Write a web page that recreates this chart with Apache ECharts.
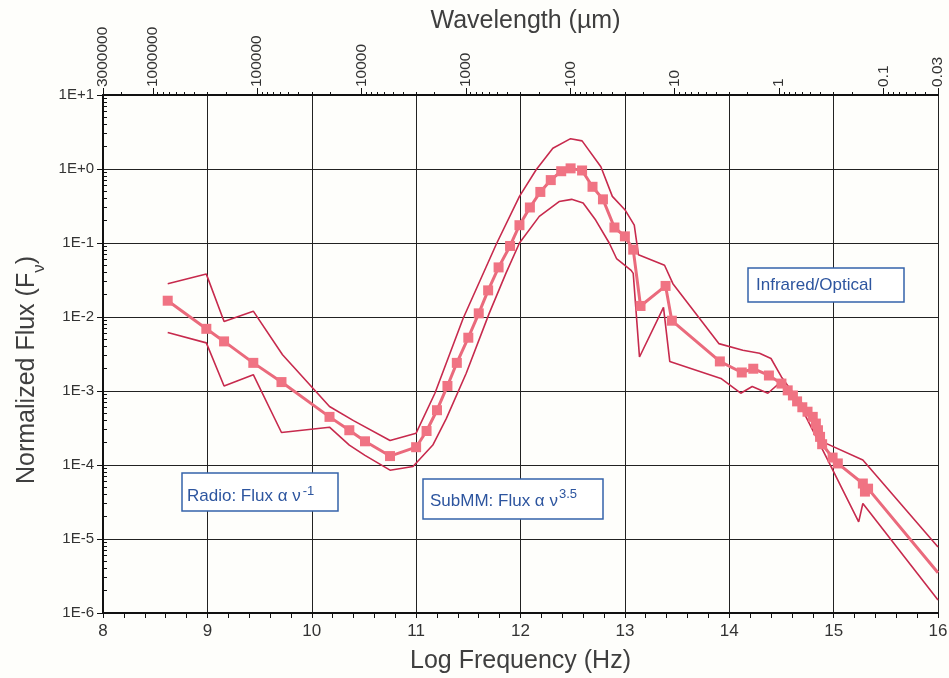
<!DOCTYPE html>
<html>
<head>
<meta charset="utf-8">
<script src="https://cdn.jsdelivr.net/npm/echarts@6/dist/echarts.min.js"></script>
<style>
  html, body { margin: 0; padding: 0; background: #fefefb; }
  #chart { width: 949px; height: 678px; }
</style>
</head>
<body>
<div id="chart"></div>
<script>
// log10 of frequency (Hz) and normalized flux
const meanFreq = [8.62, 8.99, 9.16, 9.44, 9.71, 10.17, 10.36, 10.51, 10.75, 11.00,
  11.10, 11.20, 11.30, 11.39, 11.50, 11.60, 11.69, 11.79, 11.90, 11.99,
  12.09, 12.19, 12.29, 12.39, 12.48, 12.59, 12.69, 12.79, 12.90, 13.00,
  13.08, 13.15, 13.39, 13.45, 13.91, 14.12, 14.23, 14.38, 14.50, 14.56,
  14.61, 14.65, 14.70, 14.75, 14.80, 14.83, 14.85, 14.87, 14.89, 14.99,
  15.04, 15.28, 15.30, 15.33, 16.00]
const meanFlux = [1.66e-2, 6.92e-3, 4.68e-3, 2.40e-3, 1.32e-3, 4.47e-4, 2.95e-4, 2.09e-4, 1.32e-4, 1.74e-4,
  2.88e-4, 5.50e-4, 1.17e-3, 2.40e-3, 5.25e-3, 1.12e-2, 2.29e-2, 4.68e-2, 9.12e-2, 0.174,
  0.302, 0.490, 0.708, 0.933, 1.02, 0.955, 0.575, 0.389, 0.162, 0.123,
  8.13e-2, 1.41e-2, 2.63e-2, 8.91e-3, 2.51e-3, 1.78e-3, 2.00e-3, 1.62e-3, 1.26e-3, 1.02e-3,
  8.71e-4, 7.24e-4, 6.03e-4, 5.25e-4, 4.47e-4, 3.63e-4, 2.95e-4, 2.40e-4, 1.91e-4, 1.26e-4,
  1.05e-4, 5.62e-5, 4.37e-5, 4.79e-5, 3.5e-6]

const upperFreq = [8.62, 8.99, 9.16, 9.44, 9.72, 10.17, 10.40, 10.75, 11.00, 11.18,
  11.45, 11.77, 11.99, 12.15, 12.31, 12.48, 12.59, 12.77, 12.88, 13.00,
  13.09, 13.13, 13.38, 13.46, 13.90, 14.13, 14.29, 14.40, 14.50, 14.65,
  14.80, 14.89, 15.28, 16.00]
const upperFlux = [2.82e-2, 3.80e-2, 8.71e-3, 1.20e-2, 3.09e-3, 6.17e-4, 3.98e-4, 2.14e-4, 2.69e-4, 9.33e-4,
  9.55e-3, 9.77e-2, 0.427, 0.977, 1.91, 2.57, 2.40, 1.07, 0.427, 0.282,
  0.174, 6.92e-2, 5.01e-2, 2.82e-2, 4.37e-3, 3.55e-3, 3.24e-3, 2.75e-3, 1.55e-3, 7.94e-4,
  4.79e-4, 2.07e-4, 1.17e-4, 7.8e-6]

const lowerFreq = [8.62, 8.99, 9.16, 9.44, 9.71, 10.17, 10.36, 10.51, 10.75, 10.97,
  11.16, 11.29, 11.48, 11.70, 11.86, 11.99, 12.18, 12.37, 12.49, 12.60,
  12.72, 12.85, 12.92, 13.06, 13.08, 13.14, 13.37, 13.43, 13.92, 14.11,
  14.22, 14.37, 14.50, 14.70, 14.96, 15.24, 15.28, 16.00]
const lowerFlux = [6.17e-3, 4.47e-3, 1.17e-3, 1.66e-3, 2.75e-4, 3.24e-4, 1.86e-4, 1.35e-4, 8.51e-5, 9.55e-5,
  1.86e-4, 4.27e-4, 1.74e-3, 1.12e-2, 3.89e-2, 0.100, 0.229, 0.363, 0.389, 0.347,
  0.204, 0.100, 6.17e-2, 4.27e-2, 3.89e-2, 2.88e-3, 1.35e-2, 2.51e-3, 1.48e-3, 9.33e-4,
  1.15e-3, 9.33e-4, 1.35e-3, 5.62e-4, 1.05e-4, 1.70e-5, 3.02e-5, 1.5e-6]

// top axis: wavelength in micron
const wavelengthLabels = ['3000000', '1000000', '100000', '10000', '1000', '100', '10', '1', '0.1', '0.03']
const wavelengthValues = [3e6, 1e6, 1e5, 1e4, 1e3, 100, 10, 1, 0.1, 0.03]
const LIGHT_SPEED_UM = 3e14

const toLogFreq = (lambda) => Math.log10(LIGHT_SPEED_UM / lambda)
const wavePos = wavelengthValues.map(toLogFreq)
const waveMinorPos = []
for (let k = -2; k <= 6; k++) {
  for (let m = 2; m <= 9; m++) {
    const lam = m * Math.pow(10, k)
    if (lam > 0.03 && lam < 3e6) waveMinorPos.push(toLogFreq(lam))
  }
}
const fluxMinor = []
for (let k = -6; k <= 0; k++) {
  for (let m = 2; m <= 9; m++) fluxMinor.push(m * Math.pow(10, k))
}

const zip = (xs, ys) => xs.map((x, i) => [x, ys[i]])
const meanData = zip(meanFreq, meanFlux).map((p, i) =>
  i === meanFreq.length - 1 ? { value: p, symbol: 'none' } : p)

const chart = echarts.init(document.getElementById('chart'), null, { renderer: 'canvas' })

const ink = '#111'
const labelFont = 'Liberation Sans'
const boxText = '#2d559f'
const titleColor = '#3f3f3f'

const option = {
  animation: false,
  backgroundColor: '#fefefb',
  textStyle: { fontFamily: labelFont },
  grid: { left: 103, right: 11, top: 95, bottom: 65, outerBoundsMode: 'none', containLabel: false },
  xAxis: [
    {
      type: 'value',
      min: 8,
      max: 16,
      interval: 1,
      name: 'Log Frequency (Hz)',
      nameLocation: 'middle',
      nameGap: 36,
      nameMoveOverlap: false,
      nameTextStyle: { fontSize: 25, color: titleColor },
      axisLine: { lineStyle: { color: ink, width: 2 } },
      axisTick: { show: true, length: 5, lineStyle: { color: ink } },
      minorTick: { show: true, splitNumber: 5, length: 5, lineStyle: { color: ink } },
      axisLabel: { fontSize: 17, color: '#333', margin: 10 },
      splitLine: { show: true, lineStyle: { color: '#222', width: 1 } }
    },
    {
      type: 'value',
      position: 'top',
      min: 8,
      max: 16,
      name: 'Wavelength (µm)',
      nameLocation: 'middle',
      nameGap: 61,
      nameMoveOverlap: false,
      nameTextStyle: { fontSize: 25, color: titleColor, padding: [0, 0, 0, 10] },
      axisLine: { show: true, lineStyle: { color: ink, width: 2 } },
      axisTick: { show: true, length: 7, customValues: wavePos, lineStyle: { color: ink } },
      axisLabel: {
        show: true,
        customValues: wavePos,
        rotate: -90,
        fontSize: 15.5,
        color: '#333',
        margin: 8,
        showMinLabel: true,
        showMaxLabel: true,
        formatter: (v) => {
          const i = wavePos.findIndex((p) => Math.abs(p - v) < 1e-6)
          return i >= 0 ? wavelengthLabels[i] : ''
        }
      },
      splitLine: { show: false }
    },
    {
      type: 'value',
      position: 'top',
      min: 8,
      max: 16,
      axisLine: { show: false },
      axisTick: { show: true, length: 3, customValues: waveMinorPos, lineStyle: { color: ink } },
      axisLabel: { show: false },
      splitLine: { show: false }
    }
  ],
  yAxis: [
    {
      type: 'log',
      logBase: 10,
      min: 1e-6,
      max: 10,
      name: '{a|Normalized Flux (F}{b|ν}{a|)}',
      nameLocation: 'middle',
      nameRotate: 90,
      nameGap: 55,
      nameMoveOverlap: false,
      nameTextStyle: {
        color: titleColor,
        padding: [0, 32, 0, 0],
        rich: {
          a: { fontSize: 25, color: titleColor, fontFamily: labelFont, lineHeight: 28, verticalAlign: 'top' },
          b: { fontSize: 17, color: titleColor, fontFamily: labelFont, lineHeight: 33, verticalAlign: 'bottom' }
        }
      },
      axisLine: { show: true, lineStyle: { color: ink, width: 2 } },
      axisTick: { show: true, length: 6, lineStyle: { color: ink } },
      axisLabel: {
        fontSize: 15,
        color: '#333',
        margin: 9,
        formatter: (v) => {
          const e = Math.round(Math.log10(v))
          return '1E' + (e >= 0 ? '+' : '-') + Math.abs(e)
        }
      },
      splitLine: { show: true, lineStyle: { color: '#222', width: 1 } }
    },
    {
      type: 'log',
      logBase: 10,
      min: 1e-6,
      max: 10,
      position: 'left',
      axisLine: { show: false },
      axisTick: { show: true, inside: true, length: 4, customValues: fluxMinor, lineStyle: { color: ink } },
      axisLabel: { show: false },
      splitLine: { show: false }
    },
    {
      type: 'log',
      logBase: 10,
      min: 1e-6,
      max: 10,
      position: 'right',
      axisLine: { show: true, lineStyle: { color: '#222', width: 1 } },
      axisTick: { show: false },
      axisLabel: { show: false },
      splitLine: { show: false }
    }
  ],
  series: [
    {
      name: 'upper',
      type: 'line',
      data: zip(upperFreq, upperFlux),
      symbol: 'none',
      lineStyle: { color: '#c72a4d', width: 1.6 },
      z: 2
    },
    {
      name: 'lower',
      type: 'line',
      data: zip(lowerFreq, lowerFlux),
      symbol: 'none',
      lineStyle: { color: '#c72a4d', width: 1.6 },
      z: 2
    },
    {
      name: 'mean',
      type: 'line',
      data: meanData,
      symbol: 'rect',
      symbolSize: 10,
      itemStyle: { color: '#f07383' },
      lineStyle: { color: '#ea6a7c', width: 3 },
      z: 3
    }
  ],
  graphic: [
    {
      type: 'rect',
      shape: { x: 182, y: 473, width: 156, height: 38 },
      style: { fill: '#fff', stroke: '#3563ab', lineWidth: 1.5 },
      z: 10
    },
    {
      type: 'text',
      x: 187,
      y: 485,
      style: {
        text: '{t|Radio: Flux α ν}{s|-1}',
        rich: {
          t: { fontSize: 17, fill: boxText, fontFamily: labelFont, lineHeight: 20, verticalAlign: 'bottom' },
          s: { fontSize: 13, fill: boxText, fontFamily: labelFont, lineHeight: 13, verticalAlign: 'top', padding: [0, 0, 0, 2] }
        }
      },
      z: 11
    },
    {
      type: 'rect',
      shape: { x: 423, y: 479, width: 180, height: 40 },
      style: { fill: '#fff', stroke: '#3563ab', lineWidth: 1.5 },
      z: 10
    },
    {
      type: 'text',
      x: 430,
      y: 488,
      style: {
        text: '{t|SubMM: Flux α ν}{s|3.5}',
        rich: {
          t: { fontSize: 17, fill: boxText, fontFamily: labelFont, lineHeight: 22, verticalAlign: 'bottom' },
          s: { fontSize: 13, fill: boxText, fontFamily: labelFont, lineHeight: 13, verticalAlign: 'top', padding: [0, 0, 0, 1] }
        }
      },
      z: 11
    },
    {
      type: 'rect',
      shape: { x: 748, y: 268, width: 156, height: 34 },
      style: { fill: '#fff', stroke: '#3563ab', lineWidth: 1.5 },
      z: 10
    },
    {
      type: 'text',
      x: 756,
      y: 285,
      style: {
        text: 'Infrared/Optical',
        fontSize: 17,
        fontFamily: labelFont,
        fill: boxText,
        verticalAlign: 'middle'
      },
      z: 11
    }
  ]
}

chart.setOption(option)
</script>
</body>
</html>
